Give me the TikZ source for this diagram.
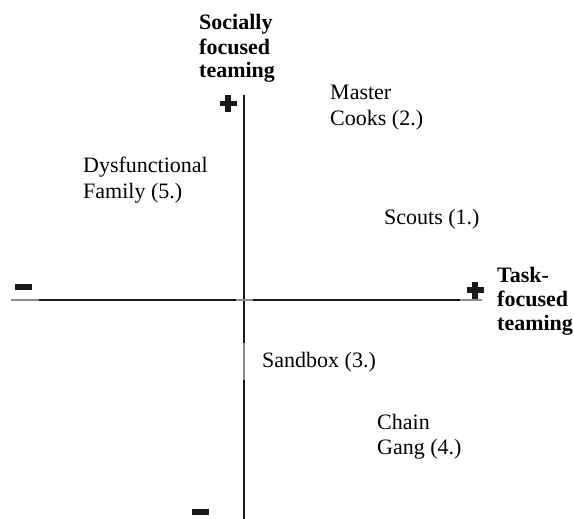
\documentclass[tikz,border=0pt]{standalone}
\usepackage{fontspec}
\setmainfont{Liberation Serif}
\usepackage{tikz}
\usetikzlibrary{positioning}

\begin{document}
\begin{tikzpicture}[
    x=1pt, y=-1pt,
    every node/.style={font=\fontsize{22}{25}\selectfont, inner sep=0pt},
    quadlabel/.style={
        anchor=base west,
        align=left
    },
    axislabel/.style={
        quadlabel,
        font=\fontsize{22}{24}\selectfont\bfseries
    },
    axis/.style={
        line width=2pt,
        black!90
    },
    faded/.style={
        line width=2pt,
        black!45
    },
    bar/.style={
        fill=black!90,
        minimum width=17pt,
        minimum height=5.5pt
    },
    upbar/.style={
        fill=black!90,
        minimum width=5.5pt,
        minimum height=17pt
    }
]

\useasboundingbox (0,0) rectangle (574,519);

% axes
\coordinate (ytop) at (244,95);
\coordinate (ybot) at (244,519);
\coordinate (xleft) at (11,300);
\coordinate (xright) at (482,300);
\draw[axis] (ytop) -- (ybot);
\draw[axis] (xleft) -- (xright);
\draw[faded] (11,300) -- (39,300);
\draw[faded] (236,300) -- (253,300);
\draw[faded] (460,300) -- (482,300);
\draw[faded] (244,343) -- (244,380);

% signs
\node[bar] (yplus) at (228,103.5) {};
\node[upbar] at (yplus) {};
\node[bar] (xplus) at (475,290) {};
\node[upbar] at (xplus) {};
\node[bar] (xminus) at (23,287) {};
\node[bar] (yminus) at (200.5,512) {};

% axis titles (base = last line)
\node[axislabel] (social) at (199,78) {Socially\\focused\\teaming};
\node[axislabel] (task) at (497,330) {Task-\\focused\\teaming};

% quadrant types
\node[quadlabel] (master) at (330,125) {Master\\Cooks (2.)};
\node[quadlabel] (family) at (83,198) {Dysfunctional\\Family (5.)};
\node[quadlabel] (scouts) at (384,224) {Scouts (1.)};
\node[quadlabel] (sandbox) at (262,367) {Sandbox (3.)};
\node[quadlabel] (chain) at (377,454) {Chain\\Gang (4.)};

\end{tikzpicture}
\end{document}
